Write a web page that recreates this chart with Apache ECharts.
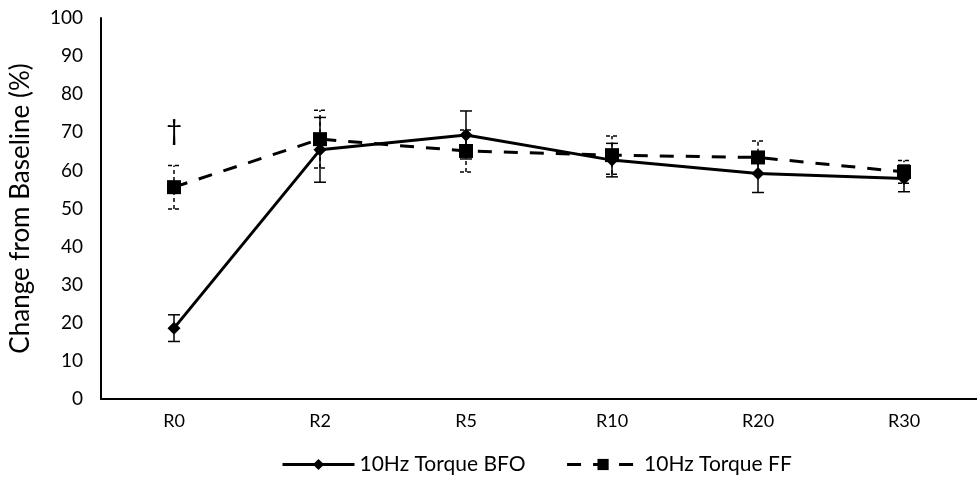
<!DOCTYPE html>
<html>
<head>
<meta charset="utf-8">
<script src="https://cdn.jsdelivr.net/npm/echarts@6/dist/echarts.min.js"></script>
<style>
  html, body { margin: 0; padding: 0; background: #fff; }
  #chart { width: 977px; height: 479px; }
</style>
</head>
<body>
<div id="chart"></div>
<script>
const categories = ['R0', 'R2', 'R5', 'R10', 'R20', 'R30'];
const bfoValues = [18.6, 65.4, 69.3, 62.7, 59.2, 57.9];
const bfoErrors = [3.5, 8.5, 6.3, 4.4, 5.0, 3.5];
const ffValues = [55.6, 68.2, 65.1, 64.0, 63.4, 59.6];
const ffErrors = [5.7, 7.6, 5.5, 5.0, 4.3, 3.0];
const yTicks = [0, 10, 20, 30, 40, 50, 60, 70, 80, 90, 100];

const font = 'Lato, "Open Sans", sans-serif';

function errorData(values, errors) {
  return values.map((v, i) => [i, v - errors[i], v + errors[i]]);
}

function errorRender(dashed) {
  return function (params, api) {
    const x = api.value(0);
    const lo = api.coord([x, api.value(1)]);
    const hi = api.coord([x, api.value(2)]);
    const half = 6;
    const style = {
      stroke: '#000',
      lineWidth: 1.5,
      lineDash: dashed ? [4, 3] : null
    };
    return {
      type: 'group',
      children: [
        { type: 'line', shape: { x1: lo[0], y1: lo[1], x2: hi[0], y2: hi[1] }, style: style },
        { type: 'line', shape: { x1: lo[0] - half, y1: lo[1], x2: lo[0] + half, y2: lo[1] }, style: style },
        { type: 'line', shape: { x1: hi[0] - half, y1: hi[1], x2: hi[0] + half, y2: hi[1] }, style: style }
      ]
    };
  };
}

const myChart = echarts.init(document.getElementById('chart'));

const option = {
  animation: false,
  textStyle: { fontFamily: font },
  grid: { left: 100, right: -5, top: 18, bottom: 80 },
  legend: {
    top: 449,
    left: 276,
    itemWidth: 72,
    itemHeight: 14,
    itemGap: 40,
    lineStyle: { width: 3 },
    textStyle: { fontSize: 21, color: '#000', fontFamily: font },
    data: ['10Hz Torque BFO', '10Hz Torque FF']
  },
  xAxis: {
    type: 'category',
    data: categories,
    axisLine: { lineStyle: { color: '#000', width: 2 } },
    axisTick: { show: false },
    axisLabel: { color: '#000', fontSize: 18, margin: 13, fontFamily: font }
  },
  yAxis: {
    type: 'value',
    min: 0,
    max: 100,
    interval: 10,
    name: 'Change from Baseline (%)',
    nameLocation: 'middle',
    nameGap: 67,
    nameTextStyle: { fontSize: 26, color: '#000', fontFamily: font },
    axisLine: { show: true, lineStyle: { color: '#000', width: 2 } },
    axisTick: { show: false },
    splitLine: { show: false },
    axisLabel: {
      color: '#000',
      fontSize: 19,
      margin: 18,
      fontFamily: font,
      formatter: v => (yTicks.includes(v) ? String(v) : '')
    }
  },
  series: [
    {
      name: '10Hz Torque BFO',
      type: 'line',
      data: bfoValues,
      symbol: 'diamond',
      symbolSize: 13,
      z: 3,
      lineStyle: { color: '#000', width: 3 },
      itemStyle: { color: '#000' }
    },
    {
      name: '10Hz Torque FF',
      type: 'line',
      data: ffValues,
      symbol: 'rect',
      symbolSize: 14,
      z: 4,
      lineStyle: { color: '#000', width: 3, type: [14, 12] },
      itemStyle: { color: '#000' },
      markPoint: {
        symbol: 'circle',
        symbolSize: 1,
        itemStyle: { color: 'rgba(0,0,0,0)' },
        data: [{ coord: [0, 70.3] }],
        label: {
          show: true,
          position: 'inside',
          formatter: '\u2020',
          fontSize: 28,
          color: '#000',
          fontFamily: font
        }
      }
    },
    {
      name: 'BFO error',
      type: 'custom',
      data: errorData(bfoValues, bfoErrors),
      renderItem: errorRender(false),
      encode: { x: 0, y: [1, 2] },
      z: 2,
      silent: true
    },
    {
      name: 'FF error',
      type: 'custom',
      data: errorData(ffValues, ffErrors),
      renderItem: errorRender(true),
      encode: { x: 0, y: [1, 2] },
      z: 2,
      silent: true
    }
  ]
};

myChart.setOption(option);
</script>
</body>
</html>
